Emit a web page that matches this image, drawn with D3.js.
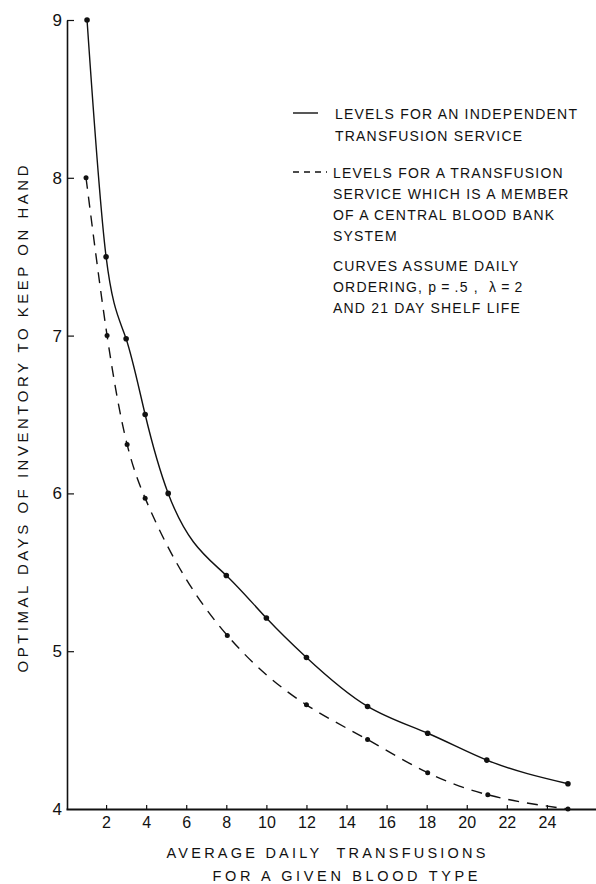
<!DOCTYPE html>
<html>
<head>
<meta charset="utf-8">
<script src="https://cdn.jsdelivr.net/npm/d3@7"></script>
<style>
  html, body { margin: 0; padding: 0; background: #fff; }
  svg { display: block; }
  text { font-family: "Liberation Sans", "DejaVu Sans", sans-serif; fill: #111; }
</style>
</head>
<body>
<svg id="chart" width="596" height="884"></svg>
<script>
// ---- data ----
const independentX = [1.05, 2, 3, 3.95, 5.1, 8, 10, 12, 15.05, 18.05, 21, 25.05];
const independentY = [9.0, 7.5, 6.98, 6.5, 6.0, 5.48, 5.21, 4.96, 4.65, 4.48, 4.31, 4.16];
const memberX = [1.0, 2.05, 3.05, 3.95, 8.05, 12, 15.05, 18.05, 21.05, 25.05];
const memberY = [8.0, 7.0, 6.31, 5.97, 5.10, 4.66, 4.44, 4.23, 4.09, 4.0];
const xTicks = [2, 4, 6, 8, 10, 12, 14, 16, 18, 20, 22, 24];
const yTicks = [4, 5, 6, 7, 8, 9];
const xLabelLines = ["AVERAGE DAILY  TRANSFUSIONS", "FOR A GIVEN BLOOD TYPE"];
const yLabel = "OPTIMAL DAYS OF INVENTORY TO KEEP ON HAND";
const legendSolid = ["LEVELS FOR AN INDEPENDENT", "TRANSFUSION SERVICE"];
const legendDashed = ["LEVELS FOR A TRANSFUSION", "SERVICE WHICH IS A MEMBER", "OF A CENTRAL BLOOD BANK", "SYSTEM"];
const noteLines = ["CURVES ASSUME DAILY", "ORDERING, p\u2009=\u2009.5 ,  \u03BB\u2009=\u20092", "AND 21 DAY SHELF LIFE"];

const svg = d3.select("#chart");
const x = d3.scaleLinear().domain([0, 26.5]).range([66, 597]);
const y = d3.scaleLinear().domain([4, 9]).range([809, 20]);

// natural cubic spline in x, as a d3 curve factory
function NaturalX(context) { this._context = context; }
NaturalX.prototype = {
  areaStart() {}, areaEnd() {},
  lineStart() { this._x = []; this._y = []; },
  point(px, py) { this._x.push(+px); this._y.push(+py); },
  lineEnd() {
    const X = this._x, Y = this._y, n = X.length, c = this._context;
    if (!n) return;
    c.moveTo(X[0], Y[0]);
    if (n === 2) { c.lineTo(X[1], Y[1]); return; }
    const h = [], M = new Array(n).fill(0);
    for (let i = 0; i < n - 1; i++) h.push(X[i + 1] - X[i]);
    const a = [], b = [], cc = [], d = [];
    for (let i = 1; i < n - 1; i++) {
      a.push(h[i - 1]); b.push(2 * (h[i - 1] + h[i])); cc.push(h[i]);
      d.push(6 * ((Y[i + 1] - Y[i]) / h[i] - (Y[i] - Y[i - 1]) / h[i - 1]));
    }
    const m = b.length;
    for (let i = 1; i < m; i++) { const w = a[i] / b[i - 1]; b[i] -= w * cc[i - 1]; d[i] -= w * d[i - 1]; }
    const sol = new Array(m);
    sol[m - 1] = d[m - 1] / b[m - 1];
    for (let i = m - 2; i >= 0; i--) sol[i] = (d[i] - cc[i] * sol[i + 1]) / b[i];
    for (let i = 0; i < m; i++) M[i + 1] = sol[i];
    for (let i = 0; i < n - 1; i++) {
      const hh = h[i], s = (Y[i + 1] - Y[i]) / hh;
      const d0 = s - hh * (2 * M[i] + M[i + 1]) / 6, d1 = s + hh * (M[i] + 2 * M[i + 1]) / 6;
      c.bezierCurveTo(X[i] + hh / 3, Y[i] + d0 * hh / 3, X[i + 1] - hh / 3, Y[i + 1] - d1 * hh / 3, X[i + 1], Y[i + 1]);
    }
  }
};
const curveNaturalX = ctx => new NaturalX(ctx);

// axes
const xAxis = d3.axisBottom(x).tickValues(xTicks).tickFormat(d3.format("d"))
  .tickSizeInner(-4).tickSizeOuter(0).tickPadding(8);
const gx = svg.append("g").attr("transform", `translate(0,${y(4)})`).call(xAxis);
gx.select(".domain").attr("stroke", "#111").attr("stroke-width", 1.8);
gx.selectAll(".tick line").attr("stroke", "#111").attr("stroke-width", 1.2);
gx.selectAll(".tick text").attr("font-size", 16).attr("fill", "#111")
  .style("font-family", '"Liberation Sans", "DejaVu Sans", sans-serif');

const yAxis = d3.axisLeft(y).tickValues(yTicks).tickFormat(d3.format("d"))
  .tickSizeInner(-7).tickSizeOuter(0).tickPadding(5);
const gy = svg.append("g").attr("transform", `translate(${x(0) + 1},0)`).call(yAxis);
gy.select(".domain").attr("stroke", "#111").attr("stroke-width", 1.6);
gy.selectAll(".tick line").attr("stroke", "#111").attr("stroke-width", 1.2);
gy.selectAll(".tick text").attr("font-size", 17).attr("fill", "#111")
  .style("font-family", '"Liberation Sans", "DejaVu Sans", sans-serif');
gy.selectAll(".tick").filter(d => d === 4).select("line").remove();

// curves
const line = d3.line().x(d => x(d[0])).y(d => y(d[1])).curve(curveNaturalX);
const solidData = independentX.map((v, i) => [v, independentY[i]]);
const dashedData = memberX.map((v, i) => [v, memberY[i]]);

svg.append("path").datum(solidData).attr("d", line)
  .attr("fill", "none").attr("stroke", "#111").attr("stroke-width", 1.4);
svg.append("path").datum(dashedData).attr("d", line)
  .attr("fill", "none").attr("stroke", "#111").attr("stroke-width", 1.4)
  .attr("stroke-dasharray", "11,8");

svg.append("g").selectAll("circle").data(solidData).join("circle")
  .attr("cx", d => x(d[0])).attr("cy", d => y(d[1])).attr("r", 2.8).attr("fill", "#111");
svg.append("g").selectAll("circle").data(dashedData).join("circle")
  .attr("cx", d => x(d[0])).attr("cy", d => y(d[1])).attr("r", 2.5).attr("fill", "#111");

// text helper
function addText(str, tx, ty, opts = {}) {
  const t = svg.append("text").attr("x", tx).attr("y", ty)
    .attr("font-size", opts.size || 14)
    .attr("letter-spacing", opts.ls != null ? opts.ls : 1.2)
    .attr("text-anchor", opts.anchor || "start")
    .attr("dominant-baseline", "central")
    .style("white-space", "pre")
    .text(str);
  if (opts.len) t.attr("textLength", opts.len).attr("lengthAdjust", "spacing");
  if (opts.transform) t.attr("transform", opts.transform);
  return t;
}

// legend
svg.append("line").attr("x1", 293).attr("x2", 318).attr("y1", 113).attr("y2", 113)
  .attr("stroke", "#111").attr("stroke-width", 1.4);
legendSolid.forEach((s, i) => addText(s, 335, 114 + i * 21.5));

svg.append("line").attr("x1", 293).attr("x2", 327).attr("y1", 172).attr("y2", 172)
  .attr("stroke", "#111").attr("stroke-width", 1.4).attr("stroke-dasharray", "6,5");
legendDashed.forEach((s, i) => addText(s, 333, 173 + i * 21));
noteLines.forEach((s, i) => addText(s, 333, 266 + i * 21));

// axis titles
addText(xLabelLines[0], 327, 853, { anchor: "middle", size: 14.5, ls: 2, len: 321 });
addText(xLabelLines[1], 346, 876, { anchor: "middle", size: 14.5, ls: 2, len: 267 });
addText(yLabel, 0, 0, { anchor: "middle", size: 15, ls: 2, len: 509, transform: "translate(22,418) rotate(-90)" });
</script>
</body>
</html>
